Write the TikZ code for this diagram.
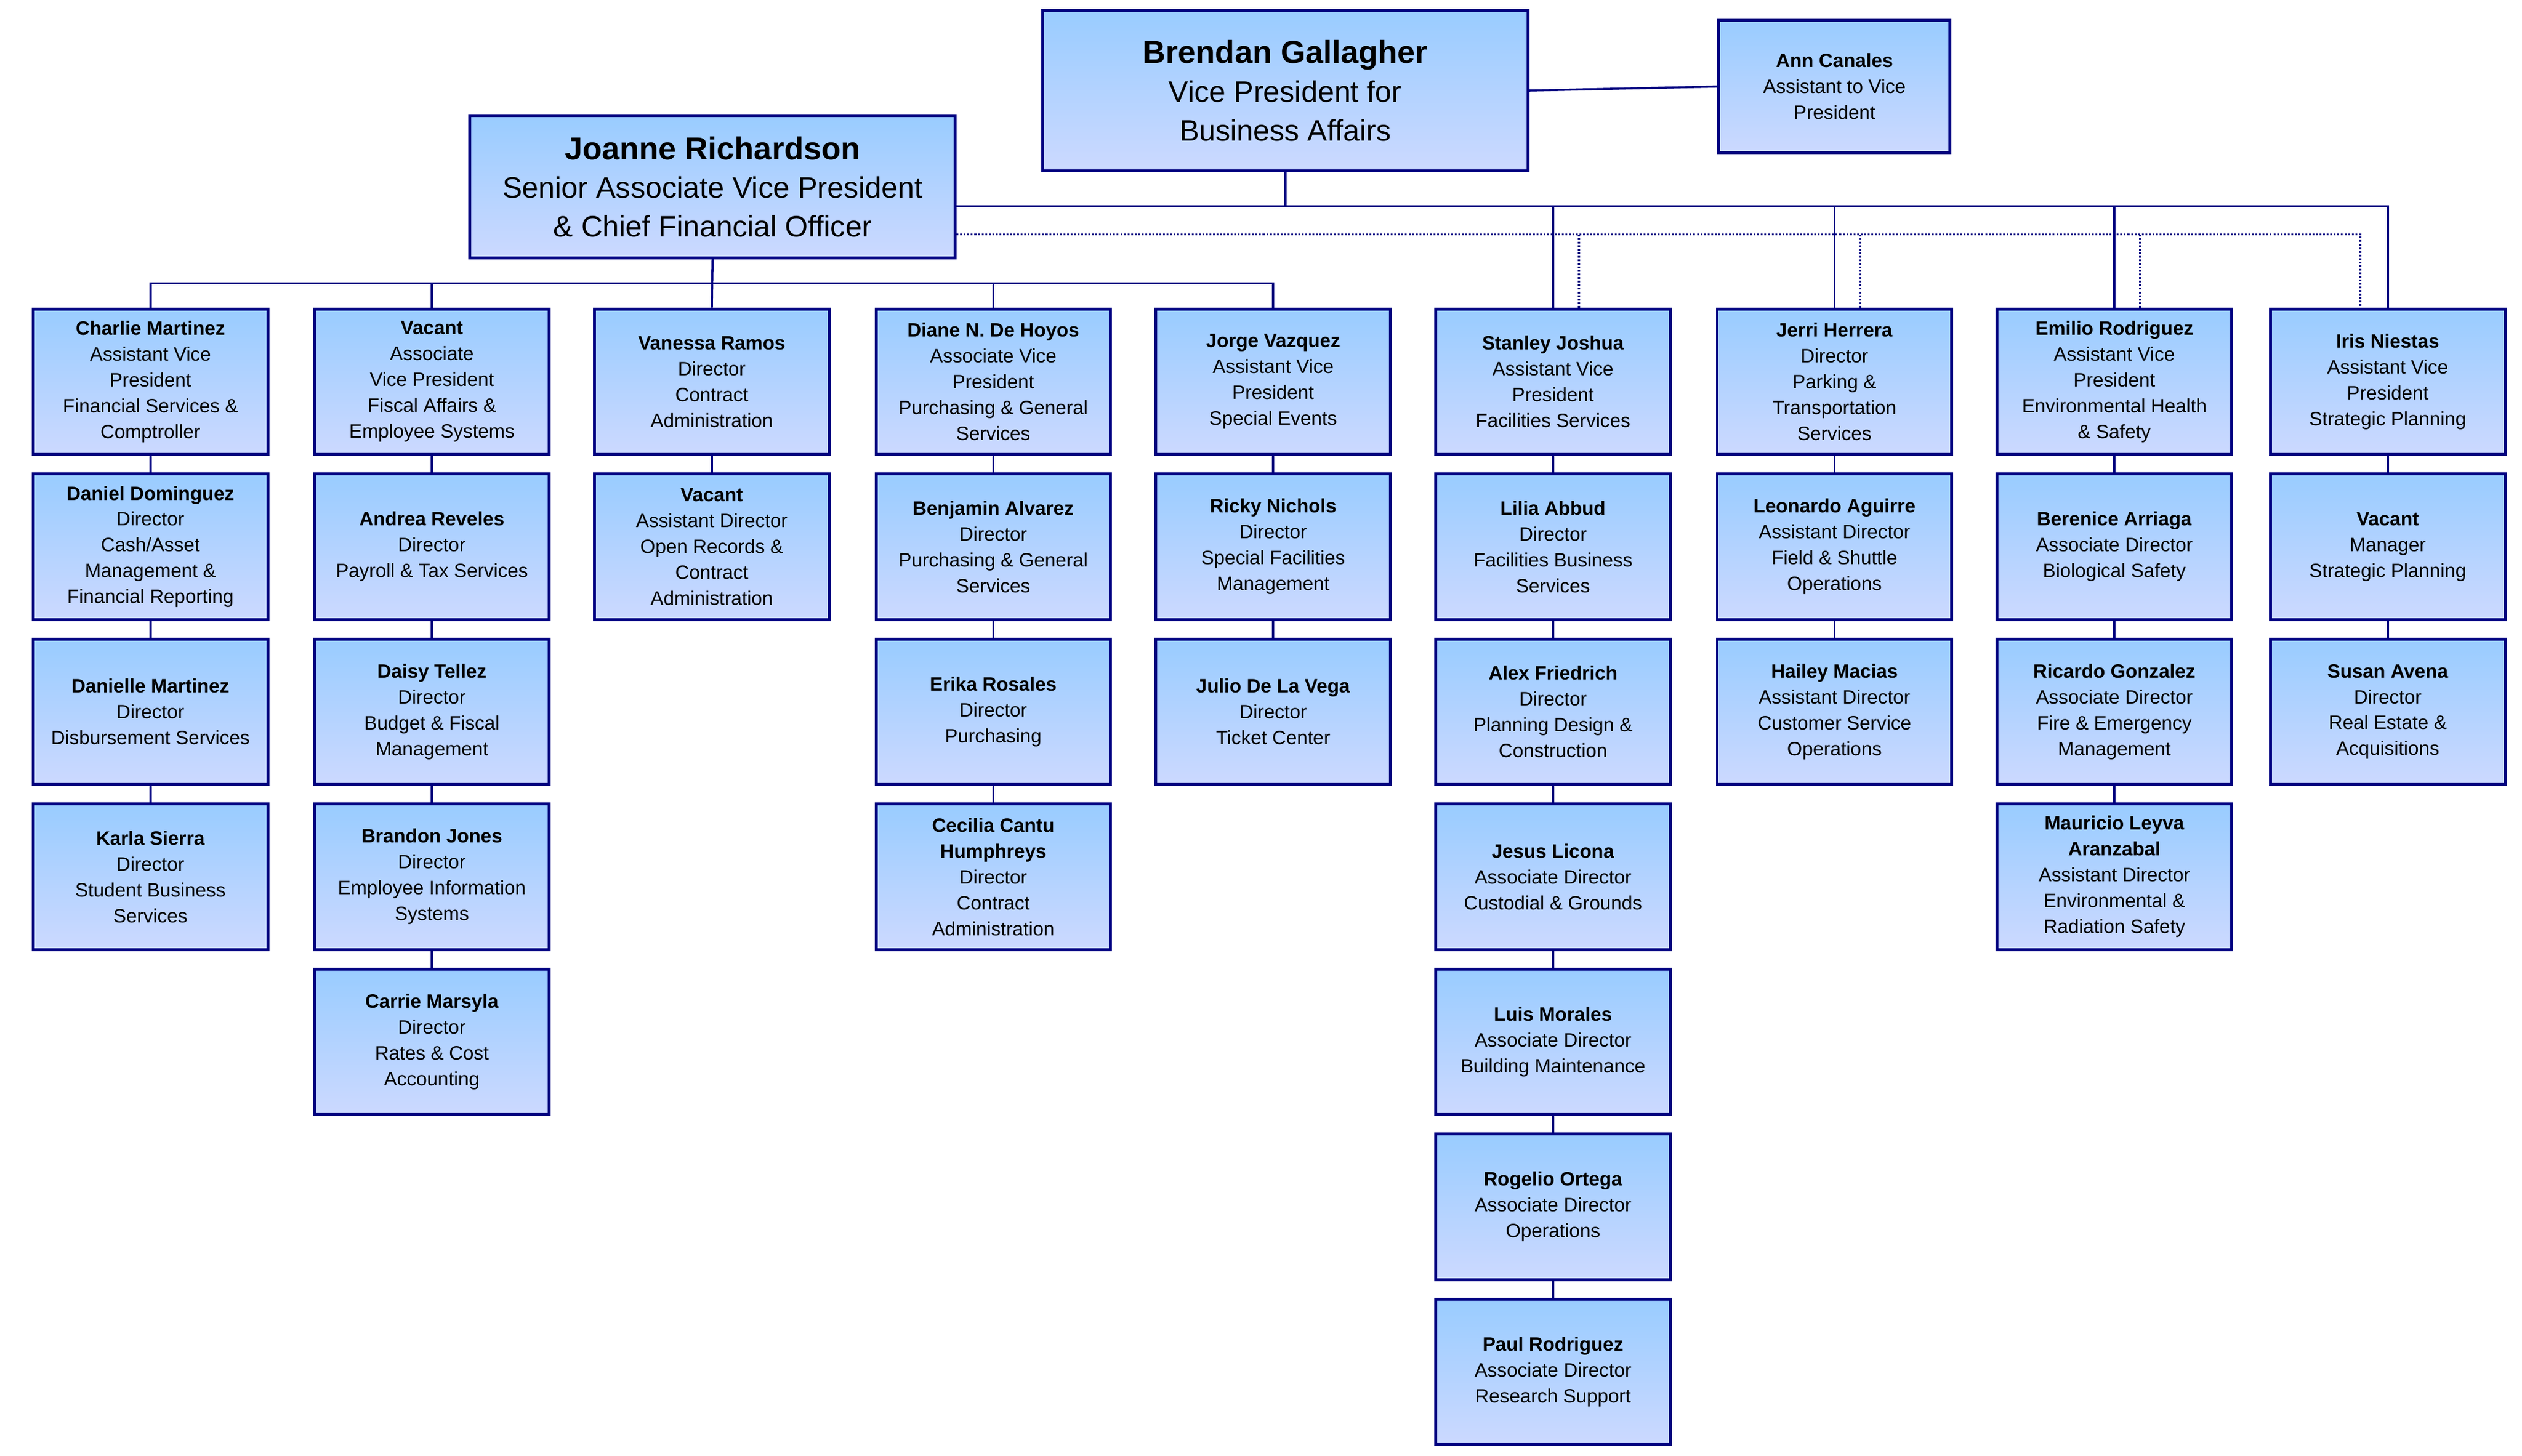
\documentclass[tikz,border=0pt]{standalone}
\usepackage{fontspec}
\setmainfont{Liberation Sans}
\usetikzlibrary{calc}
\definecolor{navy}{HTML}{000080}
\definecolor{ftop}{HTML}{99CCFF}
\definecolor{fbot}{HTML}{CCD9FF}
\begin{document}
\begin{tikzpicture}[x=0.1cm,y=-0.1cm,
  box/.style={draw=navy,line width=1.8mm,top color=ftop,bottom color=fbot,
    minimum width=145mm,minimum height=90mm,inner sep=0pt,align=center,
    font=\fontsize{34}{45.5}\selectfont},
  big/.style={box,minimum width=300mm,font=\fontsize{52}{68}\selectfont},
  ln/.style={draw=navy,line width=1.3mm},
  dl/.style={draw=navy,line width=1.2mm,dash pattern=on 1.1mm off 1.1mm}]
\useasboundingbox (0,0) rectangle (1559,900);
\node[big,minimum height=99mm] (br) at (794.5,56) {{\fontsize{56}{68}\selectfont\bfseries Brendan Gallagher}\\Vice President for\\Business Affairs};
\node[box,minimum width=143mm,minimum height=82mm] (ann) at (1134,53.5) {\textbf{Ann Canales}\\Assistant to Vice\\President};
\node[big,minimum height=88mm] (jo) at (440.5,115.5) {{\fontsize{56}{68}\selectfont\bfseries Joanne Richardson}\\Senior Associate Vice President\\\& Chief Financial Officer};
% col1
\node[box] (a1) at (93,236) {\textbf{Charlie Martinez}\\Assistant Vice\\President\\Financial Services \&\\Comptroller};
\node[box] (a2) at (93,338) {\textbf{Daniel Dominguez}\\Director\\Cash/Asset\\Management \&\\Financial Reporting};
\node[box] (a3) at (93,440) {\textbf{Danielle Martinez}\\Director\\Disbursement Services};
\node[box] (a4) at (93,542) {\textbf{Karla Sierra}\\Director\\Student Business\\Services};
% col2
\node[box] (b1) at (267,236) {\textbf{Vacant}\\Associate\\Vice President\\Fiscal Affairs \&\\Employee Systems};
\node[box] (b2) at (267,338) {\textbf{Andrea Reveles}\\Director\\Payroll \& Tax Services};
\node[box] (b3) at (267,440) {\textbf{Daisy Tellez}\\Director\\Budget \& Fiscal\\Management};
\node[box] (b4) at (267,542) {\textbf{Brandon Jones}\\Director\\Employee Information\\Systems};
\node[box] (b5) at (267,644) {\textbf{Carrie Marsyla}\\Director\\Rates \& Cost\\Accounting};
% col3
\node[box] (c1) at (440,236) {\textbf{Vanessa Ramos}\\Director\\Contract\\Administration};
\node[box] (c2) at (440,338) {\textbf{Vacant}\\Assistant Director\\Open Records \&\\Contract\\Administration};
% col4
\node[box] (d1) at (614,236) {\textbf{Diane N. De Hoyos}\\Associate Vice\\President\\Purchasing \& General\\Services};
\node[box] (d2) at (614,338) {\textbf{Benjamin Alvarez}\\Director\\Purchasing \& General\\Services};
\node[box] (d3) at (614,440) {\textbf{Erika Rosales}\\Director\\Purchasing};
\node[box] (d4) at (614,542) {\textbf{Cecilia Cantu}\\\textbf{Humphreys}\\Director\\Contract\\Administration};
% col5
\node[box] (e1) at (787,236) {\textbf{Jorge Vazquez}\\Assistant Vice\\President\\Special Events};
\node[box] (e2) at (787,338) {\textbf{Ricky Nichols}\\Director\\Special Facilities\\Management};
\node[box] (e3) at (787,440) {\textbf{Julio De La Vega}\\Director\\Ticket Center};
% col6
\node[box] (f1) at (960,236) {\textbf{Stanley Joshua}\\Assistant Vice\\President\\Facilities Services};
\node[box] (f2) at (960,338) {\textbf{Lilia Abbud}\\Director\\Facilities Business\\Services};
\node[box] (f3) at (960,440) {\textbf{Alex Friedrich}\\Director\\Planning Design \&\\Construction};
\node[box] (f4) at (960,542) {\textbf{Jesus Licona}\\Associate Director\\Custodial \& Grounds};
\node[box] (f5) at (960,644) {\textbf{Luis Morales}\\Associate Director\\Building Maintenance};
\node[box] (f6) at (960,746) {\textbf{Rogelio Ortega}\\Associate Director\\Operations};
\node[box] (f7) at (960,848) {\textbf{Paul Rodriguez}\\Associate Director\\Research Support};
% col7
\node[box] (g1) at (1134,236) {\textbf{Jerri Herrera}\\Director\\Parking \&\\Transportation\\Services};
\node[box] (g2) at (1134,338) {\textbf{Leonardo Aguirre}\\Assistant Director\\Field \& Shuttle\\Operations};
\node[box] (g3) at (1134,440) {\textbf{Hailey Macias}\\Assistant Director\\Customer Service\\Operations};
% col8
\node[box] (h1) at (1307,236) {\textbf{Emilio Rodriguez}\\Assistant Vice\\President\\Environmental Health\\\& Safety};
\node[box] (h2) at (1307,338) {\textbf{Berenice Arriaga}\\Associate Director\\Biological Safety};
\node[box] (h3) at (1307,440) {\textbf{Ricardo Gonzalez}\\Associate Director\\Fire \& Emergency\\Management};
\node[box] (h4) at (1307,542) {\textbf{Mauricio Leyva}\\\textbf{Aranzabal}\\Assistant Director\\Environmental \&\\Radiation Safety};
% col9
\node[box] (i1) at (1476,236) {\textbf{Iris Niestas}\\Assistant Vice\\President\\Strategic Planning};
\node[box] (i2) at (1476,338) {\textbf{Vacant}\\Manager\\Strategic Planning};
\node[box] (i3) at (1476,440) {\textbf{Susan Avena}\\Director\\Real Estate \&\\Acquisitions};
% column connectors
\foreach \p/\q in {a1/a2,a2/a3,a3/a4,b1/b2,b2/b3,b3/b4,b4/b5,c1/c2,d1/d2,d2/d3,d3/d4,e1/e2,e2/e3,
  f1/f2,f2/f3,f3/f4,f4/f5,f5/f6,f6/f7,g1/g2,g2/g3,h1/h2,h2/h3,h3/h4,i1/i2,i2/i3}
  \path[ln] (\p.south) -- (\q.north);
% Joanne branch
\path[ln] (jo.south) -- (c1.north);
\path[ln] (a1.north) -- ++(0,-15) -| (e1.north);
\path[ln] (b1.north) -- ++(0,-15);
\path[ln] (d1.north) -- ++(0,-15);
% Brendan branch
\path[ln] (br.east) -- (ann.west);
\coordinate (bus) at ($(br.south)+(0,21)$);
\path[ln] (br.south) -- (bus);
\path[ln] (jo.east |- bus) -- (bus -| i1.north) -- (i1.north);
\path[ln] (f1.north) -- (bus -| f1.north);
\path[ln] (g1.north) -- (bus -| g1.north);
\path[ln] (h1.north) -- (bus -| h1.north);
% dotted
\coordinate (dd) at (0,145);
\coordinate (di) at ($(i1.north)+(-17,0)$);
\path[dl] (jo.east |- dd) -- (di |- dd) -- (di);
\foreach \n in {f1,g1,h1}{
  \coordinate (dx) at ($(\n.north)+(16,0)$);
  \path[dl] (dx |- dd) -- (dx);
}
\end{tikzpicture}
\end{document}
